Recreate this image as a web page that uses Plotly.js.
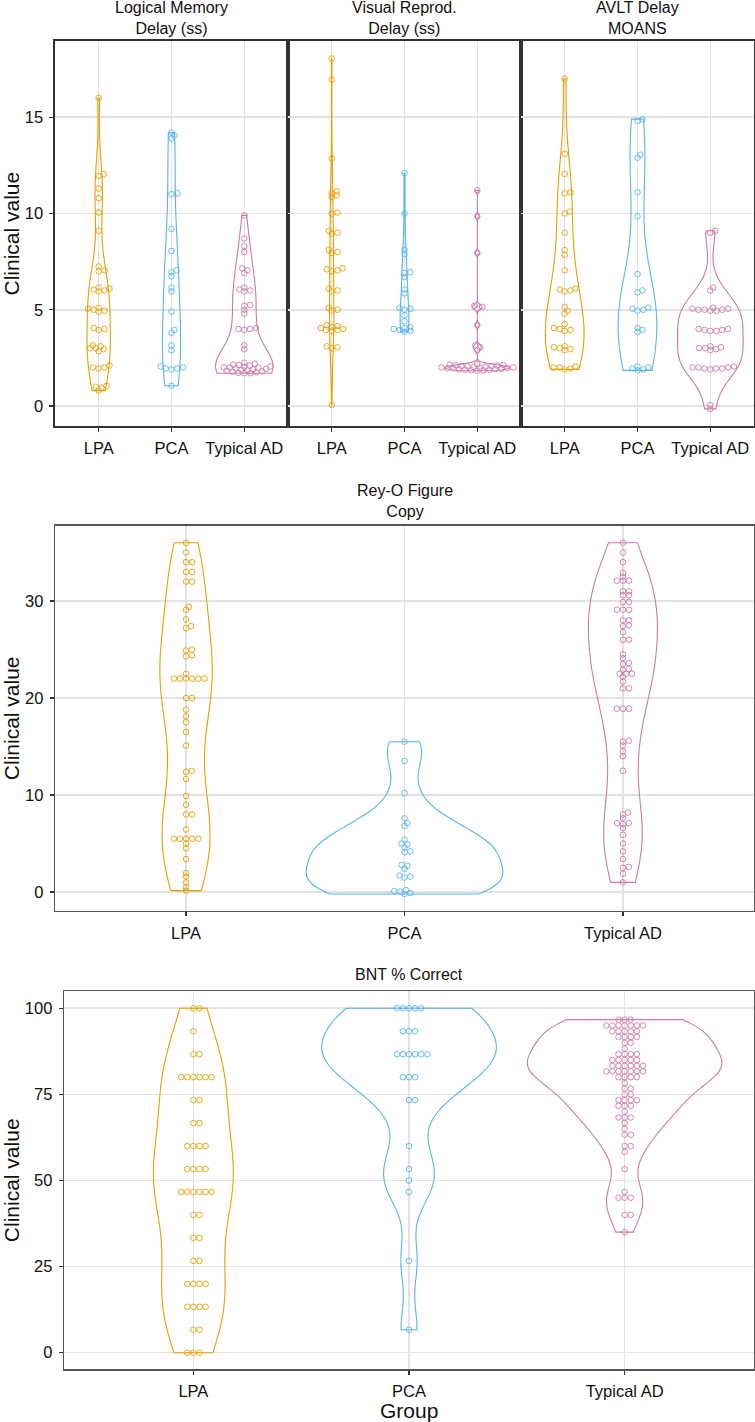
<!DOCTYPE html>
<html><head><meta charset="utf-8">
<script src="https://cdn.plot.ly/plotly-3.0.1.min.js"></script>
<style>html,body{margin:0;padding:0;background:#fff}#chart{width:755px;height:1422px}</style>
</head><body><div id="chart"></div>
<script>
// ---------- data ----------
const groups = ["LPA", "PCA", "Typical AD"];
const groupColors = ["#E69F00", "#56B4E9", "#CC79A7"];
const panelTitles = ["Logical Memory<br>Delay (ss)", "Visual Reprod.<br>Delay (ss)", "AVLT Delay<br>MOANS", "Rey-O Figure<br>Copy", "BNT % Correct"];
const yTitle = "Clinical value";
const xTitle = "Group";
const tickVals = [[0, 5, 10, 15], [0, 5, 10, 15], [0, 5, 10, 15], [0, 10, 20, 30], [0, 25, 50, 75, 100]];

const lmLPA = [16.0, 12.05, 11.95, 11.3, 10.8, 10.05, 9.1, 7.25, 7.05, 7.0, 6.15, 6.1, 6.05, 6.0, 5.95, 5.1, 5.05, 5.0, 4.95, 4.9, 4.05, 4.0, 3.95, 3.15, 3.1, 3.0, 3.0, 2.95, 2.85, 2.1, 2.0, 2.0, 1.95, 1.05, 1.0, 0.95, 0.8];
const lmPCA = [14.2, 14.05, 13.9, 11.05, 11.0, 9.2, 8.05, 7.05, 6.95, 6.75, 6.15, 5.95, 4.9, 3.95, 3.8, 3.15, 2.9, 2.05, 2.0, 1.95, 1.95, 1.9, 1.05];
const lmTAD = [9.9, 8.7, 8.3, 8.0, 7.15, 7.05, 6.9, 6.15, 6.05, 6.0, 5.95, 5.25, 5.2, 5.0, 4.8, 4.05, 4.0, 4.0, 3.95, 3.15, 2.95, 2.25, 2.2, 2.15, 2.12, 2.1, 2.05, 2.03, 2.0, 2.0, 1.98, 1.95, 1.93, 1.9, 1.88, 1.85, 1.83, 1.8, 1.78, 1.75, 1.72, 1.7, 1.7];

const vrLPA = [18.05, 16.95, 12.85, 11.15, 11.05, 10.95, 10.85, 10.05, 10.0, 9.1, 9.0, 8.95, 8.1, 8.0, 7.95, 7.15, 7.1, 7.05, 7.0, 6.1, 6.0, 5.95, 5.1, 5.0, 4.95, 4.2, 4.15, 4.1, 4.05, 4.0, 3.95, 3.95, 3.9, 3.1, 3.05, 3.0, 0.05];
const vrPCA = [12.1, 10.0, 8.1, 7.9, 6.95, 6.9, 6.7, 6.05, 5.85, 5.1, 5.05, 5.0, 4.7, 4.4, 4.1, 4.05, 4.0, 3.95, 3.9, 3.85];
const vrTAD = [11.2, 9.85, 7.95, 5.2, 5.15, 5.05, 4.2, 3.15, 3.05, 2.9, 2.17, 2.15, 2.13, 2.12, 2.1, 2.08, 2.07, 2.05, 2.03, 2.02, 2.0, 2.0, 1.99, 1.97, 1.96, 1.95, 1.93, 1.92, 1.9, 1.89, 1.88, 1.86, 1.85, 1.83];

const avLPA = [17.0, 13.1, 12.05, 11.1, 11.05, 10.1, 10.0, 9.0, 8.1, 7.85, 7.05, 6.1, 6.05, 6.0, 5.95, 5.15, 4.95, 4.8, 4.25, 4.05, 4.0, 3.95, 3.9, 3.1, 3.05, 3.0, 2.95, 2.9, 2.05, 2.0, 2.0, 1.95, 1.9];
const avPCA = [14.9, 14.8, 13.05, 12.9, 11.1, 9.85, 6.85, 6.0, 5.9, 5.1, 5.05, 5.0, 4.95, 4.05, 3.95, 3.85, 2.05, 2.0, 1.95, 1.9, 1.85];
const avTAD = [9.1, 9.0, 6.15, 6.0, 5.1, 5.05, 5.05, 5.0, 5.0, 5.0, 4.95, 4.95, 4.0, 4.0, 3.95, 3.95, 3.9, 3.9, 3.1, 3.05, 3.0, 3.0, 2.95, 2.9, 2.05, 2.0, 2.0, 2.0, 1.95, 1.95, 1.95, 1.9, 0.05, -0.15];

const roLPA = [36, 35, 34, 34, 33, 33, 32, 32, 29.4, 29.1, 28.1, 27.4, 27.2, 25.0, 24.9, 24.4, 24.3, 22.5, 22, 22, 22, 22, 22, 22, 20, 20, 18.8, 18.1, 17.5, 16.5, 15.1, 12.5, 12.4, 11.65, 9.9, 9.0, 8.0, 8.0, 6.45, 5.5, 5.5, 5.5, 5.5, 5.5, 5.0, 4.5, 3.4, 1.95, 1.6, 1.0, 0.5, 0.15];
const roPCA = [15.5, 13.5, 10.2, 7.6, 7.1, 6.8, 5.4, 5.0, 4.9, 4.6, 4.2, 4.1, 2.8, 2.7, 2.4, 1.7, 1.6, 1.5, 0.2, 0.1, 0.05, -0.1, -0.2];
const roTAD = [36, 35, 34, 32.9, 32.5, 32.1, 32.1, 32.1, 31, 31, 30.6, 30.6, 29.9, 29.9, 29.1, 29.1, 29.1, 28, 28, 27.5, 27.4, 26.8, 26, 26, 24.5, 24.1, 23.6, 23.5, 23, 22.9, 22.5, 22.5, 22.5, 22.2, 21.7, 21, 21, 18.9, 18.9, 18.9, 15.6, 15.5, 15.1, 14.5, 14, 12.5, 8.2, 8.0, 7.6, 7.1, 7.1, 7.0, 6.6, 5.9, 5.0, 4.2, 3.4, 2.6, 2.5, 1.9, 1.0];

const bntLPA = [100, 100, 93.33, 86.67, 86.67, 80, 80, 80, 80, 80, 80, 73.33, 73.33, 66.67, 66.67, 60, 60, 60, 60, 53.33, 53.33, 53.33, 53.33, 46.67, 46.67, 46.67, 46.67, 46.67, 46.67, 40, 40, 33.33, 33.33, 26.67, 26.67, 20, 20, 20, 20, 13.33, 13.33, 13.33, 13.33, 6.67, 6.67, 0, 0, 0];
const bntPCA = [100, 100, 100, 100, 100, 93.33, 93.33, 93.33, 86.67, 86.67, 86.67, 86.67, 86.67, 86.67, 80, 80, 80, 73.33, 73.33, 60, 53.33, 50, 46.67, 26.67, 6.67];
const bntTAD = [96.7, 96.7, 96.7, 95, 95, 95, 95, 95, 95, 95, 93.3, 93.3, 93.3, 93.3, 93.3, 91.7, 91.7, 91.7, 91.7, 90, 90, 88.3, 86.7, 86.7, 86.7, 86.7, 85, 85, 85, 85, 85, 83.3, 83.3, 83.3, 83.3, 83.3, 83.3, 81.7, 81.7, 81.7, 81.7, 81.7, 81.7, 81.7, 80, 80, 80, 80, 78.3, 76.7, 76.7, 75, 75, 73.3, 73.3, 73.3, 73.3, 71.7, 71.7, 71.7, 70, 68.3, 68.3, 68.3, 66.7, 65, 63.3, 63.3, 60, 60, 58.3, 53.3, 46.7, 45, 45, 45, 40, 40, 35];

const panelData = [[lmLPA, lmPCA, lmTAD], [vrLPA, vrPCA, vrTAD], [avLPA, avPCA, avTAD], [roLPA, roPCA, roTAD], [bntLPA, bntPCA, bntTAD]];

// ---------- style / layout ----------
const W = 755, H = 1422;
const FONT = "Liberation Sans, Arial, Helvetica, sans-serif";
const panelStyle = [
  {xd: [55, 288], yd: [41, 426], yr: [-1.04, 18.96], showY: true, widths: [0.32, 0.25, 0.79], bwAdj: [1, 1, 1], line: "#333", lw: 1.6},
  {xd: [288, 521], yd: [41, 426], yr: [-1.04, 18.96], showY: false, widths: [0.06, 0.12, 0.88], bwAdj: [1, 1, 0.3], line: "#333", lw: 1.6},
  {xd: [521, 754], yd: [41, 426], yr: [-1.04, 18.96], showY: false, widths: [0.53, 0.53, 0.9], bwAdj: [1, 1, 1], line: "#333", lw: 1.6},
  {xd: [55, 754], yd: [525.7, 910.7], yr: [-1.92, 37.76], showY: true, widths: [0.24, 0.9, 0.315], bwAdj: [1, 1, 1], line: "#555", lw: 1.3},
  {xd: [64, 754], yd: [991, 1369.3], yr: [-4.82, 105.02], showY: true, widths: [0.37, 0.81, 0.9], bwAdj: [1, 1, 1], line: "#555", lw: 1.3}
];
const titleY = [18, 18, 18, 501, 975];
const DOTX = 6.1, DOTY = 3.3;

function quant(s, p) { const h = (s.length - 1) * p, lo = Math.floor(h); return s[lo] + (h - lo) * (s[Math.min(lo + 1, s.length - 1)] - s[lo]); }
function nrd0(v) {
  const s = [...v].sort((a, b) => a - b), n = s.length;
  const m = s.reduce((a, b) => a + b, 0) / n;
  const sd = Math.sqrt(s.reduce((a, b) => a + (b - m) * (b - m), 0) / (n - 1));
  let lo = Math.min(sd, (quant(s, 0.75) - quant(s, 0.25)) / 1.34);
  if (!lo) lo = sd || Math.abs(s[0]) || 1;
  return 0.9 * lo * Math.pow(n, -0.2);
}
// anisotropic swarm (beeswarm-like): returns x offsets in px
function swarm(vals, ppuY, dx, dy) {
  const idx = vals.map((v, i) => i).sort((a, b) => vals[a] - vals[b] || a - b);
  const placed = [], xs = new Array(vals.length).fill(0);
  const hit = (p, x, y) => ((p.x - x) / dx) ** 2 + ((p.y - y) / dy) ** 2 < 1 - 1e-6;
  for (const i of idx) {
    const y = vals[i] * ppuY;
    const cands = [0];
    for (const p of placed) {
      const r = (p.y - y) / dy;
      if (Math.abs(r) < 1) { const o = dx * Math.sqrt(1 - r * r); cands.push(p.x + o, p.x - o); }
    }
    cands.sort((a, b) => Math.abs(a) - Math.abs(b));
    for (const c of cands) {
      if (!placed.some(p => hit(p, c, y))) { xs[i] = c; placed.push({x: c, y: y}); break; }
    }
  }
  return xs;
}

const traces = [];
const layout = {
  width: W, height: H, margin: {l: 0, r: 0, t: 0, b: 0},
  paper_bgcolor: "#fff", plot_bgcolor: "#fff", showlegend: false,
  violinmode: "overlay", font: {family: FONT, color: "#111"}, annotations: []
};

panelStyle.forEach((ps, i) => {
  const s = i === 0 ? "" : String(i + 1);
  const ppuY = (ps.yd[1] - ps.yd[0]) / (ps.yr[1] - ps.yr[0]);
  const ppuX = (ps.xd[1] - ps.xd[0]) / 3.2;
  layout["xaxis" + s] = {
    domain: [ps.xd[0] / W, ps.xd[1] / W], anchor: "y" + s, range: [0.4, 3.6],
    tickmode: "array", tickvals: [1, 2, 3], ticktext: groups,
    showgrid: true, gridcolor: "#e2e2e2", gridwidth: 1.6, zeroline: false,
    showline: true, mirror: true, linecolor: ps.line, linewidth: ps.lw,
    ticks: "outside", ticklen: 4, tickcolor: "#333", tickwidth: 1.2, ticklabelstandoff: 3,
    tickfont: {family: FONT, size: 16.5, color: "#111"}, fixedrange: true
  };
  layout["yaxis" + s] = {
    domain: [1 - ps.yd[1] / H, 1 - ps.yd[0] / H], anchor: "x" + s, range: ps.yr,
    tickmode: "array", tickvals: tickVals[i],
    showgrid: true, gridcolor: "#e2e2e2", gridwidth: 1.6, zeroline: false,
    showline: true, mirror: true, linecolor: ps.line, linewidth: ps.lw,
    ticks: ps.showY ? "outside" : "", ticklen: 4, tickcolor: "#333", tickwidth: 1.2,
    showticklabels: ps.showY, ticklabelstandoff: 3,
    tickfont: {family: FONT, size: 16.5, color: "#111"}, fixedrange: true
  };
  panelData[i].forEach((vals, g) => {
    traces.push({
      type: "violin", x: vals.map(() => g + 1), y: vals, xaxis: "x" + s, yaxis: "y" + s,
      points: false, spanmode: "hard", bandwidth: nrd0(vals) * ps.bwAdj[g],
      width: ps.widths[g], scalemode: "width", scalegroup: "p" + i + "g" + g,
      line: {color: groupColors[g], width: 1.1}, fillcolor: "rgba(0,0,0,0)",
      box: {visible: false}, meanline: {visible: false}, hoverinfo: "skip", showlegend: false
    });
  });
  panelData[i].forEach((vals, g) => {
    const off = swarm(vals, ppuY, DOTX, DOTY);
    traces.push({
      type: "scatter", mode: "markers", xaxis: "x" + s, yaxis: "y" + s,
      x: vals.map((v, k) => g + 1 + off[k] / ppuX), y: vals,
      marker: {symbol: "circle-open", size: 5.6, color: groupColors[g], line: {width: 0.9, color: groupColors[g]}},
      hoverinfo: "skip", showlegend: false
    });
  });
  layout.annotations.push({
    xref: "paper", yref: "paper", x: (ps.xd[0] + ps.xd[1]) / 2 / W, y: 1 - titleY[i] / H,
    xanchor: "center", yanchor: "middle", showarrow: false, text: panelTitles[i],
    font: {family: FONT, size: 16, color: "#111"}
  });
});

[[41, 426], [525.7, 910.7], [991, 1369.3]].forEach(yd => {
  layout.annotations.push({
    xref: "paper", yref: "paper", x: 11 / W, y: 1 - (yd[0] + yd[1]) / 2 / H,
    xanchor: "center", yanchor: "middle", textangle: -90, showarrow: false, text: yTitle,
    font: {family: FONT, size: 21, color: "#111"}
  });
});
layout.annotations.push({
  xref: "paper", yref: "paper", x: 409 / W, y: 1 - 1410 / H, xanchor: "center", yanchor: "middle",
  showarrow: false, text: xTitle, font: {family: FONT, size: 21, color: "#111"}
});

Plotly.newPlot("chart", traces, layout, {staticPlot: true, displayModeBar: false});
</script>
</body></html>
